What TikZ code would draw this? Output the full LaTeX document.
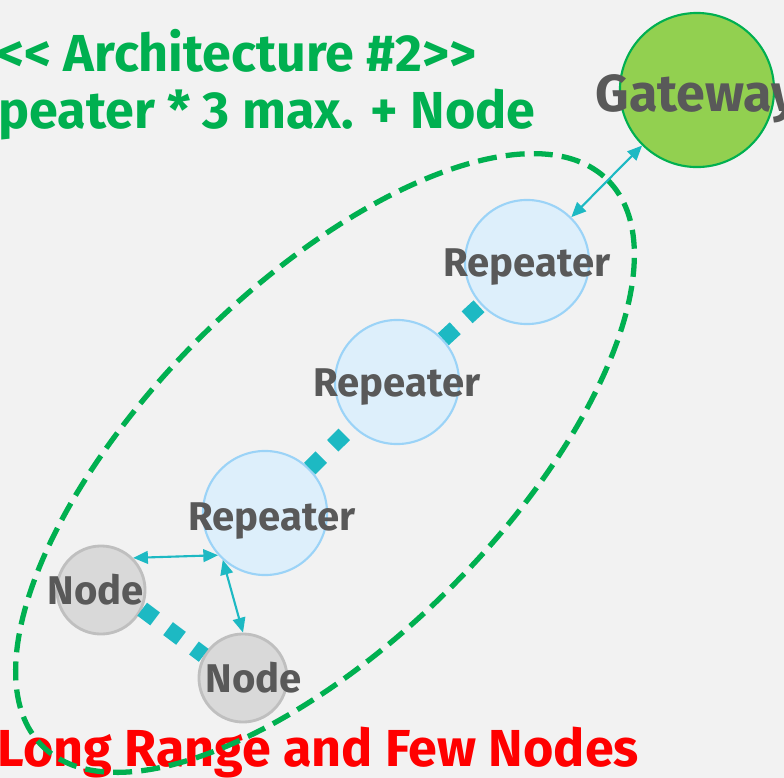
\documentclass[tikz,border=0pt]{standalone}
\usepackage{fontspec}
\setmainfont{Fira Sans}
\newfontfamily\headfont[FakeStretch=1.0]{Fira Sans}
\usepackage{tikz}
\usetikzlibrary{arrows.meta}
\definecolor{bggray}{RGB}{242, 242, 242}
\definecolor{zonegreen}{RGB}{0, 176, 80}
\definecolor{gwfill}{RGB}{146, 208, 80}
\definecolor{repfill}{RGB}{221, 239, 251}
\definecolor{repline}{RGB}{155, 211, 247}
\definecolor{nodefill}{RGB}{217, 217, 217}
\definecolor{nodeline}{RGB}{191, 191, 191}
\definecolor{linkcyan}{RGB}{29, 185, 195}
\definecolor{labelgray}{RGB}{89, 89, 89}

\begin{document}
\begin{tikzpicture}[
    x=0.01cm, y=-0.01cm,
    repeater/.style={circle, draw=repline, line width=0.6pt, fill=repfill,
                     minimum size=1.24cm, inner sep=0pt},
    sensor/.style={circle, draw=nodeline, line width=0.8pt, fill=nodefill,
                   minimum size=0.88cm, inner sep=0pt},
    gateway/.style={circle, draw=zonegreen, line width=0.6pt, fill=gwfill,
                    minimum size=1.54cm, inner sep=0pt},
    lbl/.style={font=\fontsize{11.4}{13}\selectfont\bfseries, text=labelgray, inner sep=0pt},
    headlbl/.style={font=\headfont\fontsize{14.8}{16.2}\selectfont\bfseries, inner sep=0pt},
    arr/.style={{Triangle[length=4.2pt,width=3.6pt]}-{Triangle[length=4.2pt,width=3.6pt]},
                line width=0.6pt, linkcyan},
    hop/.style={line width=4.6pt, linkcyan, dash pattern=on 4.6pt off 4.6pt},
    zone/.style={draw=zonegreen, line width=1.5pt, dash pattern=on 5.4pt off 2.6pt}
]
\useasboundingbox (0,0) rectangle (784,778);
\clip (0,0) rectangle (784,778);
\fill[bggray] (0,0) rectangle (784,778);

\node[headlbl, text=zonegreen, align=center, anchor=north] (title) at (237,29)
     {<< Architecture \#2>>\\Repeater * 3 max. + Node};
\node[headlbl, text=red, anchor=base west] (caption) at (-3,766) {Long Range and Few Nodes};

% coverage zone
\draw[zone, rotate around={45:(325,463)}] (325,463) ellipse (400 and 177);

\node[gateway, label={[headlbl, text=labelgray, yshift=-0.09cm]center:Gateway}] (gw) at (697,90) {};
\node[repeater, label={[lbl, yshift=-0.05cm]center:Repeater}] (rep3) at (527,262) {};
\node[repeater, label={[lbl, yshift=-0.05cm]center:Repeater}] (rep2) at (397,382) {};
\node[repeater, label={[lbl, xshift=0.07cm, yshift=-0.08cm]center:Repeater}] (rep1) at (265,513) {};
\node[sensor, label={[lbl, xshift=-0.05cm]center:Node}] (n1) at (101,590) {};
\node[sensor, label={[lbl, xshift=0.11cm]center:Node}] (n2) at (243,678) {};

% links
\draw[hop] (rep1) -- (rep2);
\draw[hop] (rep2) -- (rep3);
\draw[hop] (n1.-25) -- (n2.150);

\draw[arr] (rep3) -- (gw);
\draw[arr] (n1.45) -- (rep1.222);
\draw[arr] (rep1.228) -- (n2.90);

\end{tikzpicture}
\end{document}
